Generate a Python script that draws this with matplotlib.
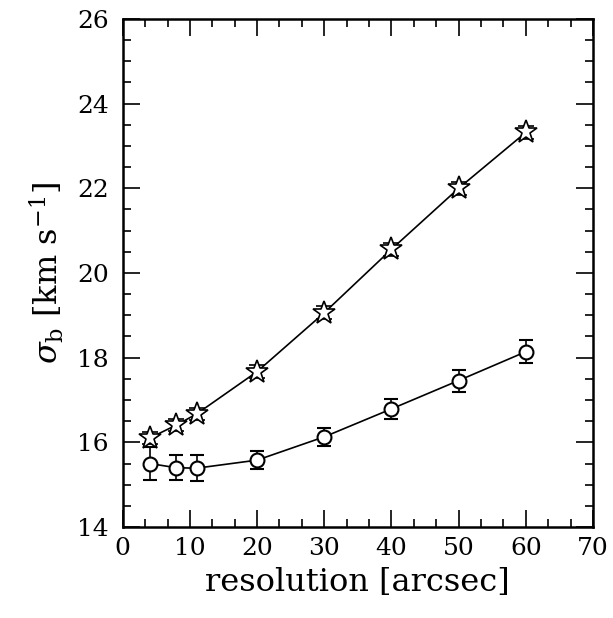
import numpy as np
import matplotlib
matplotlib.use("Agg")
import matplotlib.pyplot as plt
from matplotlib.ticker import MultipleLocator

# resolution of the smoothed maps
res = [4, 8, 11, 20, 30, 40, 50, 60]

# star points (upper curve)
star_y = [16.10, 16.41, 16.67, 17.67, 19.06, 20.56, 22.00, 23.32]
star_err = [0.15, 0.15, 0.15, 0.15, 0.15, 0.15, 0.15, 0.15]

# circle points (lower curve)
circ_y = [15.50, 15.40, 15.39, 15.58, 16.13, 16.79, 17.46, 18.14]
circ_err = [0.38, 0.30, 0.30, 0.21, 0.22, 0.23, 0.26, 0.27]

plt.rcParams['font.family'] = 'DejaVu Serif'
plt.rcParams['mathtext.fontset'] = 'dejavuserif'

fig = plt.figure(figsize=(6.13, 6.18), dpi=100)
ax = fig.add_axes([0.2002, 0.1472, 0.7672, 0.8222])

ax.errorbar(res, circ_y, yerr=circ_err, fmt='-o', color='black', lw=1.2,
            ms=10, mfc='white', mec='black', mew=1.5,
            capsize=5, elinewidth=1.2, capthick=1.3)
ax.errorbar(res, star_y, yerr=star_err, fmt='-*', color='black', lw=1.2,
            ms=17, mfc='white', mec='black', mew=1.2,
            capsize=6, elinewidth=1.2, capthick=1.3)

ax.set_xlim(0, 70)
ax.set_ylim(14, 26)
ax.xaxis.set_major_locator(MultipleLocator(10))
ax.xaxis.set_minor_locator(MultipleLocator(10 / 3))
ax.yaxis.set_major_locator(MultipleLocator(2))
ax.yaxis.set_minor_locator(MultipleLocator(0.5))

ax.tick_params(which='both', direction='in', top=True, right=True,
               width=1.2, labelsize=18)
ax.tick_params(which='major', length=12)
ax.tick_params(which='minor', length=6)
ax.tick_params(axis='x', pad=7)
ax.tick_params(axis='y', pad=10)
for s in ax.spines.values():
    s.set_linewidth(1.8)

ax.set_xlabel('resolution [arcsec]', fontsize=23, labelpad=5)
ax.set_ylabel(r'$\sigma_{\rm b}$ [km s$^{-1}$]', fontsize=23, labelpad=8)

fig.savefig('out.png', dpi=100)
